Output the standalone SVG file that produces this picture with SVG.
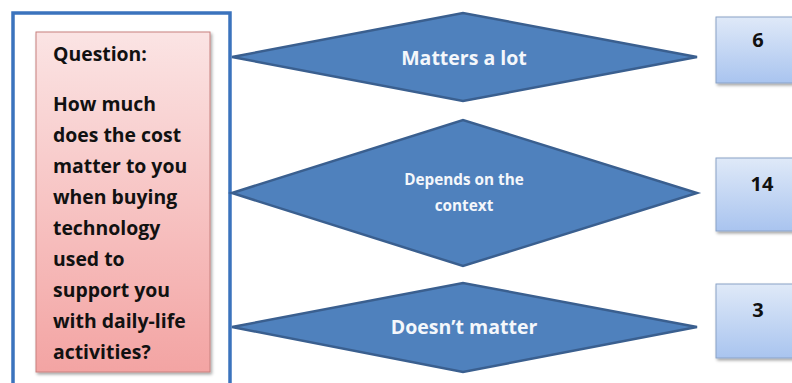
<svg xmlns="http://www.w3.org/2000/svg" width="792" height="383" viewBox="0 0 792 383">
  <defs>
    <linearGradient id="pinkFill" x1="0" y1="0" x2="0" y2="1">
      <stop offset="0" stop-color="#fbe4e4"/>
      <stop offset="1" stop-color="#f3a4a3"/>
    </linearGradient>
    <linearGradient id="blueFill" x1="0" y1="0" x2="0" y2="1">
      <stop offset="0" stop-color="#dfe9f8"/>
      <stop offset="1" stop-color="#a9c4ef"/>
    </linearGradient>
    <filter id="shadow" x="-10%" y="-10%" width="130%" height="130%">
      <feDropShadow dx="1.5" dy="2" stdDeviation="1.5" flood-color="#000" flood-opacity="0.35"/>
    </filter>
    <style>
      .frame { fill: none; stroke: #3b73bd; stroke-width: 3.5; }
      .question { fill: url(#pinkFill); stroke: #c7807e; stroke-width: 1; filter: url(#shadow); }
      .qtext { font-family: "Open Sans", "Liberation Sans", sans-serif; font-weight: bold; font-size: 19.4px; fill: #111; }
      .diamond { fill: #4f81bd; stroke: #3a5f8f; stroke-width: 2.5; stroke-linejoin: miter; }
      .dtext { font-family: "Open Sans", "Liberation Sans", sans-serif; font-weight: bold; font-size: 19.5px; fill: #f4f7fb; text-anchor: middle; }
      .dtext.small { font-size: 15.3px; }
      .count { fill: url(#blueFill); stroke: #8aa2c6; stroke-width: 1; filter: url(#shadow); }
      .ctext { font-family: "Open Sans", "Liberation Sans", sans-serif; font-weight: bold; font-size: 20px; fill: #111; text-anchor: middle; }
    </style>
  </defs>

  <rect width="792" height="383" fill="#ffffff"/>

  <!-- question panel -->
  <g id="question">
    <rect class="frame" x="13" y="13" width="217" height="385"/>
    <rect class="question" x="36" y="32" width="174" height="340"/>
    <text class="qtext" x="53" y="61">Question:</text>
    <text class="qtext" x="53" y="111">How much</text>
    <text class="qtext" x="53" y="142">does the cost</text>
    <text class="qtext" x="53" y="173">matter to you</text>
    <text class="qtext" x="53" y="204">when buying</text>
    <text class="qtext" x="53" y="235">technology</text>
    <text class="qtext" x="53" y="266">used to</text>
    <text class="qtext" x="53" y="297">support you</text>
    <text class="qtext" x="53" y="328">with daily-life</text>
    <text class="qtext" x="53" y="359">activities?</text>
  </g>

  <!-- answer options -->
  <g id="answer-a-lot">
    <polygon class="diamond" points="232,57 463,13 697,57 463,101"/>
    <text class="dtext" x="464" y="65">Matters a lot</text>
  </g>
  <g id="answer-context">
    <polygon class="diamond" points="232,193 463,120 697,193 463,266"/>
    <text class="dtext small" x="464" y="185">Depends on the</text>
    <text class="dtext small" x="464" y="211">context</text>
  </g>
  <g id="answer-none">
    <polygon class="diamond" points="232,327 463,283 697,327 463,372"/>
    <text class="dtext" x="464" y="334">Doesn’t matter</text>
  </g>

  <!-- response counts -->
  <g id="count-a-lot">
    <rect class="count" x="716" y="17" width="90" height="66"/>
    <text class="ctext" x="758" y="47">6</text>
  </g>
  <g id="count-context">
    <rect class="count" x="716" y="158" width="90" height="73"/>
    <text class="ctext" x="762" y="191">14</text>
  </g>
  <g id="count-none">
    <rect class="count" x="716" y="284" width="90" height="74"/>
    <text class="ctext" x="758" y="317">3</text>
  </g>

  <g id="connectors"/>
</svg>
